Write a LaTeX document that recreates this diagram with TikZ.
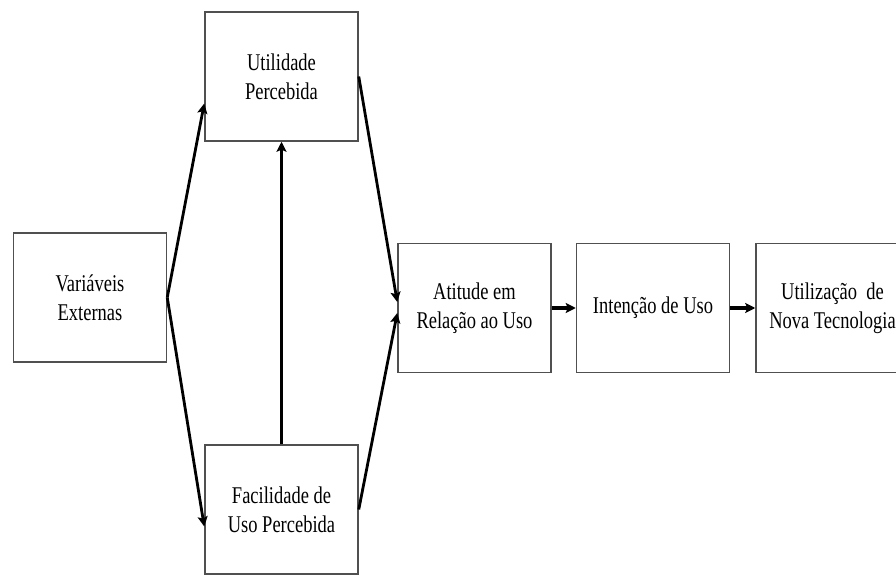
\documentclass[tikz,border=0pt]{standalone}
\usepackage{fontspec}
\setmainfont[FakeStretch=0.77]{Liberation Serif}
\usepackage{tikz}
\usetikzlibrary{positioning, arrows.meta}
\definecolor{boxgray}{RGB}{80,80,80}
\tikzstyle{block} = [rectangle, minimum width=153pt, minimum height=129pt, inner sep=0pt, text centered, align=center, draw=boxgray, line width=1.5pt, font=\fontsize{24}{29}\selectfont]
\tikzstyle{link} = [-{Stealth[length=10pt, width=10pt, inset=2pt]}, line width=2.8pt]

\begin{document}
\begin{tikzpicture}[x=1pt,y=1pt]
		\useasboundingbox (0,0) rectangle (896,576);
		\clip (0,0) rectangle (896,576);
		\node (Atitude)[block] at (474.5,268){Atitude em\\Relação ao Uso};
		\node (Intencao)[block, right = 24pt of Atitude]{Intenção de Uso};
		\node (Utilizacao)[block, right = 25pt of Intencao]{Utilização\ \ de\\Nova Tecnologia};
		\node (Variaveis)[block] at (90,278.5){Variáveis\\Externas};
		\node (Utilidade)[block] at (281.5,499.5){Utilidade\\Percebida};
		\node (Facilidade)[block] at (281.5,66.5){Facilidade de\\Uso Percebida};
		\draw [link] (Variaveis.east) -- ([yshift=-27pt]Utilidade.west);
		\draw [link] (Variaveis.east) -- ([yshift=-17pt]Facilidade.west);
		\draw [link] (Facilidade) -- (Utilidade);
		\draw [link] (Utilidade.east) -- ([yshift=6pt]Atitude.west);
		\draw [link] (Facilidade.east) -- ([yshift=-5pt]Atitude.west);
		\draw [link, line width=3.5pt] (Atitude) -- (Intencao);
		\draw [link, line width=3.5pt] (Intencao) -- (Utilizacao);
	\end{tikzpicture}
\end{document}
